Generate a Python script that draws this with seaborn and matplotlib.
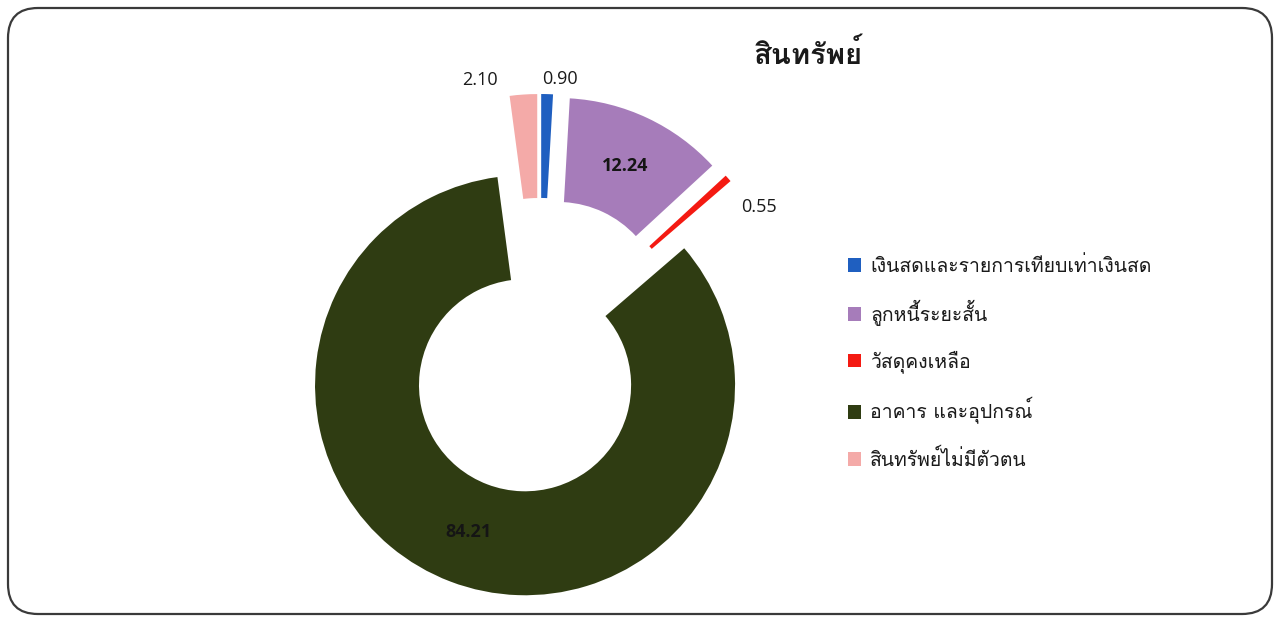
import numpy as np
import matplotlib
matplotlib.use("Agg")
import matplotlib.pyplot as plt
import seaborn as sns
from matplotlib import font_manager, ft2font
from matplotlib.patches import FancyBboxPatch
from matplotlib.transforms import IdentityTransform

# ------------------------------------------------------------
# data
# ------------------------------------------------------------
title = "สินทรัพย์"
categories = [
    "เงินสดและรายการเทียบเท่าเงินสด",
    "ลูกหนี้ระยะสั้น",
    "วัสดุคงเหลือ",
    "อาคาร และอุปกรณ์",
    "สินทรัพย์ไม่มีตัวตน",
]
values = [0.90, 12.24, 0.55, 84.21, 2.10]
value_labels = ["0.90", "12.24", "0.55", "84.21", "2.10"]
colors = ["#1F5FC0", "#A67CBA", "#F41A12", "#2F3C12", "#F4AAA8"]

# ------------------------------------------------------------
# font with thai glyphs (fallback DejaVu)
# ------------------------------------------------------------
def has_thai(path):
    try:
        return 0x0E2A in ft2font.FT2Font(path).get_charmap()
    except Exception:
        return False

thai_fonts = []
for f in font_manager.fontManager.ttflist:
    if f.name not in thai_fonts and has_thai(f.fname):
        thai_fonts.append(f.name)

sns.set_theme(style="white")
plt.rcParams['font.family'] = thai_fonts[:1] + ['Open Sans', 'DejaVu Sans']

# ------------------------------------------------------------
# figure
# ------------------------------------------------------------
W, H, DPI = 1280, 622, 100
fig = plt.figure(figsize=(W / DPI, H / DPI), dpi=DPI)
fig.patch.set_facecolor("white")
ax = fig.add_axes([0, 0, 1, 1])

wedges, _ = ax.pie(
    values,
    colors=colors,
    startangle=90,
    counterclock=False,
    explode=[0.2] * len(values),
    radius=1.0,
    wedgeprops=dict(width=0.495, linewidth=0),
)

# place axes so that the donut sits where it does in the reference
scale = 210.0          # px per data unit
cx, cy = 540.0, 346.0  # pixel centre (from top-left)
xmin = -cx / scale
ymin = -(H - cy) / scale
ax.set_xlim(xmin, xmin + W / scale)
ax.set_ylim(ymin, ymin + H / scale)
ax.set_aspect("equal")
ax.axis("off")

# value labels
total = sum(values)
starts = 90 - 360 * np.cumsum([0] + values[:-1]) / total
mids = starts - 360 * np.array(values) / total / 2
offsets = {0: (12, 0), 4: (-42, 0), 2: (20, -38)}
for i, (lab, ang) in enumerate(zip(value_labels, mids)):
    a = np.deg2rad(ang)
    if i in (1, 3):
        r = 0.95
        ax.text(r * np.cos(a), r * np.sin(a), lab, ha="center", va="center",
                fontsize=13, fontweight="bold", color="#151515",
                family=['Open Sans', 'DejaVu Sans'])
    else:
        r = 1.27
        ax.annotate(lab, xy=(r * np.cos(a), r * np.sin(a)), xytext=offsets[i],
                    textcoords="offset pixels", ha="center", va="center",
                    fontsize=13, color="#1a1a1a",
                    family=['Open Sans', 'DejaVu Sans'])

# title
fig.text(808 / W, 1 - 55 / H, title, ha="center", va="center",
         fontsize=21, fontweight="bold", color="#1a1a1a")

# legend
leg = fig.legend(
    wedges, categories,
    loc="upper left", bbox_to_anchor=(840 / W, 1 - 248 / H),
    frameon=False, fontsize=14, handlelength=0.7, handleheight=0.7,
    handletextpad=0.45, labelspacing=1.25, borderaxespad=0,
)
for t in leg.get_texts():
    t.set_color("#1a1a1a")

# rounded frame around the chart
frame = FancyBboxPatch((8, 8), W - 16, H - 16,
                       boxstyle="round,pad=0,rounding_size=30",
                       transform=IdentityTransform(), fill=False,
                       edgecolor="#3a3a3a", linewidth=1.6)
fig.patches.append(frame)

fig.savefig("out.png", dpi=DPI)
